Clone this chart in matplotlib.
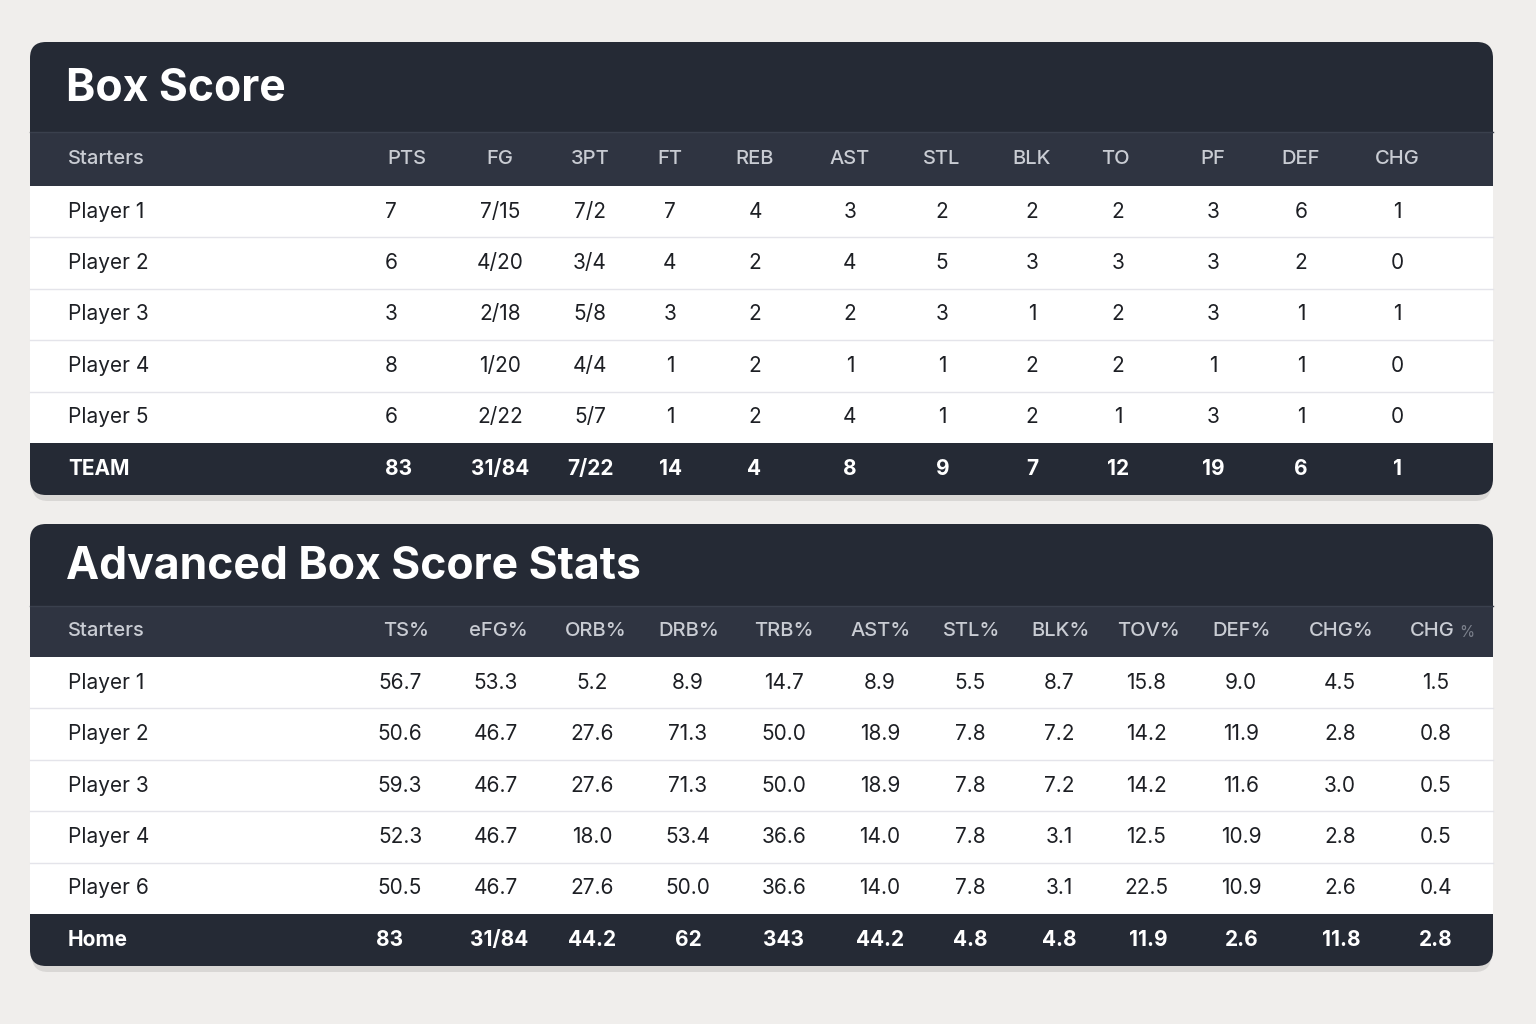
import matplotlib
matplotlib.use("Agg")
import matplotlib.pyplot as plt
from matplotlib.patches import FancyBboxPatch, Rectangle

# ---- data ----
box_cols = ["PTS", "FG", "3PT", "FT", "REB", "AST", "STL", "BLK", "TO", "PF", "DEF", "CHG"]
box_players = ["Player 1", "Player 2", "Player 3", "Player 4", "Player 5"]
box_rows = [
    ["7", "7/15", "7/2", "7", "4", "3", "2", "2", "2", "3", "6", "1"],
    ["6", "4/20", "3/4", "4", "2", "4", "5", "3", "3", "3", "2", "0"],
    ["3", "2/18", "5/8", "3", "2", "2", "3", "1", "2", "3", "1", "1"],
    ["8", "1/20", "4/4", "1", "2", "1", "1", "2", "2", "1", "1", "0"],
    ["6", "2/22", "5/7", "1", "2", "4", "1", "2", "1", "3", "1", "0"],
]
box_total_label = "TEAM"
box_total = ["83", "31/84", "7/22", "14", "4", "8", "9", "7", "12", "19", "6", "1"]

adv_cols = ["TS%", "eFG%", "ORB%", "DRB%", "TRB%", "AST%", "STL%", "BLK%", "TOV%", "DEF%", "CHG%", "CHG"]
adv_players = ["Player 1", "Player 2", "Player 3", "Player 4", "Player 6"]
adv_rows = [
    ["56.7", "53.3", "5.2", "8.9", "14.7", "8.9", "5.5", "8.7", "15.8", "9.0", "4.5", "1.5"],
    ["50.6", "46.7", "27.6", "71.3", "50.0", "18.9", "7.8", "7.2", "14.2", "11.9", "2.8", "0.8"],
    ["59.3", "46.7", "27.6", "71.3", "50.0", "18.9", "7.8", "7.2", "14.2", "11.6", "3.0", "0.5"],
    ["52.3", "46.7", "18.0", "53.4", "36.6", "14.0", "7.8", "3.1", "12.5", "10.9", "2.8", "0.5"],
    ["50.5", "46.7", "27.6", "50.0", "36.6", "14.0", "7.8", "3.1", "22.5", "10.9", "2.6", "0.4"],
]
adv_total_label = "Home"
adv_total = ["83", "31/84", "44.2", "62", "343", "44.2", "4.8", "4.8", "11.9", "2.6", "11.8", "2.8"]

# ---- layout (pixels) ----
BG = "#f0eeec"
DARK = "#252a35"
HEAD = "#2f3441"
W, H = 1536, 1024

box_hx = [407, 500, 590, 670, 755, 850, 942, 1032, 1115, 1213, 1301, 1397]
box_vx = [391, 500, 590, 670, 755, 850, 942, 1032, 1118, 1213, 1301, 1397]
box_tx = [399, 500, 591, 671, 754, 850, 943, 1032, 1118, 1213, 1301, 1397]
adv_hx = [406, 498, 596, 689, 784, 881, 972, 1061, 1148, 1242, 1341, 1432]
adv_vx = [400, 496, 592, 688, 784, 880, 970, 1059, 1146, 1241, 1340, 1436]
adv_tx = [390, 499, 592, 688, 784, 880, 970, 1059, 1148, 1242, 1341, 1436]

FONT = "Inter"
fig = plt.figure(figsize=(W / 100, H / 100), dpi=100, facecolor=BG)
ax = fig.add_axes([0, 0, 1, 1])
ax.set_xlim(0, W); ax.set_ylim(H, 0); ax.axis("off")


def card(top, bottom, title, cols, hx, players, rows, vx, tlabel, total, tx,
         title_h, head_h, last_fade=False):
    x0, x1 = 30, 1493
    # shadow
    ax.add_patch(FancyBboxPatch((x0 + 2, top + 6), x1 - x0 - 4, bottom - top,
                                boxstyle="round,pad=0,rounding_size=16",
                                fc="#00000018", ec="none", zorder=0))
    ax.add_patch(FancyBboxPatch((x0, top), x1 - x0, bottom - top,
                                boxstyle="round,pad=0,rounding_size=16",
                                fc=DARK, ec="none", zorder=1))
    ht = top + title_h
    hb = ht + head_h
    tot_h = 52
    rb = bottom - tot_h
    ax.add_patch(Rectangle((x0, ht), x1 - x0, head_h, fc=HEAD, ec="none", zorder=2))
    ax.plot([x0, x1], [ht, ht], color="#3a404d", lw=1, zorder=3)
    ax.add_patch(Rectangle((x0, hb), x1 - x0, rb - hb, fc="white", ec="none", zorder=2))
    ax.text(66, top + title_h / 2 + 2, title, color="white", fontsize=32,
            fontweight="bold", family=FONT, va="center", ha="left", zorder=4)
    hy = ht + head_h / 2
    ax.text(68, hy, "Starters", color="#c9ccd3", fontsize=14.5, family=FONT,
            fontweight="medium", va="center", zorder=4)
    for i, (c, x) in enumerate(zip(cols, hx)):
        if last_fade and i == len(cols) - 1:
            ax.text(x, hy, c, color="#c9ccd3", fontsize=14.5, family=FONT,
                    fontweight="medium", va="center", ha="center", zorder=4)
            ax.text(x + 27, hy + 1, "%", color="#7c818c", fontsize=11, family=FONT,
                    va="center", ha="left", zorder=4)
        else:
            ax.text(x, hy, c, color="#c9ccd3", fontsize=14.5, family=FONT,
                    fontweight="medium", va="center", ha="center", zorder=4)
    rh = (rb - hb) / len(players)
    for r, (p, vals) in enumerate(zip(players, rows)):
        cy = hb + rh * (r + 0.5)
        if r > 0:
            ax.plot([x0, x1], [hb + rh * r, hb + rh * r], color="#e4e4ea", lw=1, zorder=3)
        ax.text(68, cy, p, color="#1d1f24", fontsize=15, family=FONT, va="center", zorder=4)
        for v, x in zip(vals, vx):
            ax.text(x, cy, v, color="#1d1f24", fontsize=15, family=FONT,
                    va="center", ha="center", zorder=4)
    ty = rb + tot_h / 2
    ax.text(68, ty, tlabel, color="white", fontsize=15, family=FONT,
            fontweight="bold", va="center", zorder=4)
    for v, x in zip(total, tx):
        ax.text(x, ty, v, color="white", fontsize=15, family=FONT,
                fontweight="bold", va="center", ha="center", zorder=4)


card(42, 495, "Box Score", box_cols, box_hx, box_players, box_rows, box_vx,
     box_total_label, box_total, box_tx, title_h=90, head_h=54)
card(524, 966, "Advanced Box Score Stats", adv_cols, adv_hx, adv_players, adv_rows, adv_vx,
     adv_total_label, adv_total, adv_tx, title_h=82, head_h=51, last_fade=True)

fig.savefig("out.png", dpi=100, facecolor=BG)
